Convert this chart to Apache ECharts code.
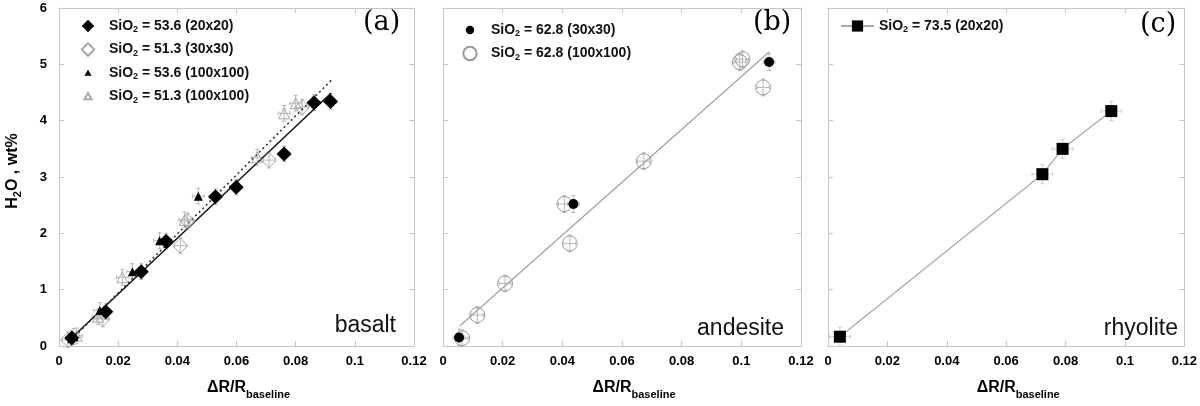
<!DOCTYPE html>
<html><head><meta charset="utf-8">
<script src="https://cdn.jsdelivr.net/npm/echarts@6/dist/echarts.min.js"></script>
<style>html,body{margin:0;padding:0;background:#fff}#c{width:1200px;height:406px}</style>
</head><body><div id="c"></div><script>
// ---------- tick labels ----------
const xTickLabels = ['0', '0.02', '0.04', '0.06', '0.08', '0.1', '0.12'];
const yTickLabels = ['0', '1', '2', '3', '4', '5', '6'];

// ---------- panel (a) basalt ----------
const nameA1 = 'SiO2 = 53.6 (20x20)';
const nameA2 = 'SiO2 = 51.3 (30x30)';
const nameA3 = 'SiO2 = 53.6 (100x100)';
const nameA4 = 'SiO2 = 51.3 (100x100)';
const basaltA1 = [[0.0043, 0.14], [0.0158, 0.61], [0.0278, 1.32], [0.0362, 1.86], [0.0529, 2.65], [0.0599, 2.82], [0.0761, 3.41], [0.0862, 4.32], [0.0918, 4.34]];
const basaltA2 = [[0.0030, 0.11], [0.0148, 0.48], [0.0410, 1.78], [0.0435, 2.22], [0.0710, 3.30], [0.0822, 4.24]];
const basaltA3 = [[0.0050, 0.17], [0.0138, 0.63], [0.0248, 1.32], [0.0340, 1.87], [0.0471, 2.66]];
const basaltA4 = [[0.0060, 0.18], [0.0132, 0.52], [0.0214, 1.22], [0.0425, 2.24], [0.0670, 3.35], [0.0761, 4.13], [0.0800, 4.31]];
const basaltErrX = [0.002, 0.002, 0.002, 0.002, 0.002, 0.002, 0.002, 0.002, 0.002];
const basaltErrY = [0.14, 0.14, 0.14, 0.14, 0.14, 0.14, 0.14, 0.14, 0.14];
const basaltFitSolid = [[0.003, 0.08], [0.092, 4.49]];
const basaltFitDotted = [[0.003, 0.05], [0.0925, 4.74]];

// ---------- panel (b) andesite ----------
const nameB1 = 'SiO2 = 62.8 (30x30)';
const nameB2 = 'SiO2 = 62.8 (100x100)';
const andesiteB1 = [[0.0054, 0.15], [0.0437, 2.52], [0.1093, 5.04]];
const andesiteB2 = [[0.0064, 0.14], [0.0115, 0.55], [0.0208, 1.11], [0.0407, 2.52], [0.0425, 1.82], [0.0673, 3.28], [0.0995, 5.04], [0.1004, 5.09], [0.1073, 4.59]];
const andesiteErrX = [0.002, 0.002, 0.002, 0.002, 0.002, 0.002, 0.002, 0.002, 0.002];
const andesiteErrY = [0.15, 0.15, 0.15, 0.15, 0.15, 0.15, 0.15, 0.15, 0.15];
const andesiteFit = [[0.0057, 0.36], [0.1093, 5.22]];

// ---------- panel (c) rhyolite ----------
const nameC1 = 'SiO2 = 73.5 (20x20)';
const rhyoliteC1 = [[0.0040, 0.165], [0.0722, 3.05], [0.0790, 3.50], [0.0954, 4.17]];
const rhyoliteErrX = [0.0035, 0.0035, 0.0035, 0.0035];
const rhyoliteErrY = [0.17, 0.17, 0.17, 0.17];

// ---------- styles ----------
const FONT = '"Liberation Sans", Arial, Helvetica, sans-serif';
const boxColor = '#c6c6c6';
const grayMark = '#a8a8a8';
const errColor = '#b8b8b8';
const grids = [
  { left: 59, top: 8, width: 355, height: 338 },
  { left: 443, top: 8, width: 358, height: 338 },
  { left: 828, top: 8, width: 357, height: 338 }
];
const subRich = {
  s: { fontSize: 9, lineHeight: 10, fontWeight: 'bold', fontFamily: FONT, color: '#111', padding: [8, 0, 0, 0] }
};
const subFmt = n => n.replace('SiO2', 'SiO{s|2}');

function xAxes(g) {
  const common = {
    gridIndex: g, type: 'value', min: 0, max: 0.12, interval: 0.02,
    splitLine: { show: false },
    axisLine: { show: true, onZero: false, lineStyle: { color: boxColor, width: 1 } },
    axisTick: { show: true, inside: true, length: 5, lineStyle: { color: boxColor } }
  };
  return [
    Object.assign({}, common, {
      position: 'bottom',
      axisLabel: {
        show: true, margin: 9, color: '#000', fontWeight: 'bold', fontSize: 13, fontFamily: FONT,
        showMinLabel: true, showMaxLabel: true,
        formatter: v => xTickLabels[Math.round(v / 0.02)]
      },
      name: 'ΔR/R{b|baseline}', nameLocation: 'middle', nameGap: 30,
      nameTextStyle: {
        color: '#000', fontSize: 16, fontWeight: 'bold', fontFamily: FONT, padding: [0, 0, 0, 24],
        rich: { b: { fontSize: 11, fontWeight: 'bold', fontFamily: FONT, color: '#000', padding: [13, 0, 0, 0] } }
      }
    }),
    Object.assign({}, common, { position: 'top', axisLabel: { show: false } })
  ];
}
function yAxes(g, labels) {
  const common = {
    gridIndex: g, type: 'value', min: 0, max: 6, interval: 1,
    splitLine: { show: false },
    axisLine: { show: true, onZero: false, lineStyle: { color: boxColor, width: 1 } },
    axisTick: { show: true, inside: true, length: 5, lineStyle: { color: boxColor } }
  };
  const left = Object.assign({}, common, {
    position: 'left',
    axisLabel: labels ? {
      show: true, margin: 12, color: '#000', fontWeight: 'bold', fontSize: 13, fontFamily: FONT,
      formatter: v => yTickLabels[Math.round(v)]
    } : { show: false }
  });
  if (labels) {
    Object.assign(left, {
      name: 'H{s|2}O , wt%', nameLocation: 'middle', nameGap: 36, nameRotate: 90,
      nameTextStyle: {
        color: '#000', fontSize: 16, fontWeight: 'bold', fontFamily: FONT, padding: [0, 0, 0, 12],
        rich: { s: { fontSize: 11, fontWeight: 'bold', fontFamily: FONT, color: '#000', padding: [9, 0, 0, 0] } }
      }
    });
  }
  return [left, Object.assign({}, common, { position: 'right', axisLabel: { show: false } })];
}

function errSeries(ai, pts, ex, ey, color) {
  return {
    type: 'custom', xAxisIndex: ai, yAxisIndex: ai, silent: true, z: 1,
    data: pts.map((p, i) => [p[0], p[1], ex[i % ex.length], ey[i % ey.length]]),
    encode: { x: 0, y: 1 },
    renderItem: (params, api) => {
      const x = api.value(0), y = api.value(1), dx = api.value(2), dy = api.value(3);
      const c = api.coord([x, y]);
      const t = api.coord([x, y + dy])[1], b = api.coord([x, y - dy])[1];
      const l = api.coord([x - dx, y])[0], r = api.coord([x + dx, y])[0];
      const k = 2;
      const st = { stroke: color || errColor, lineWidth: 1 };
      const L = (x1, y1, x2, y2) => ({ type: 'line', shape: { x1, y1, x2, y2 }, style: st });
      return {
        type: 'group', children: [
          L(c[0], t, c[0], b), L(c[0] - k, t, c[0] + k, t), L(c[0] - k, b, c[0] + k, b),
          L(l, c[1], r, c[1]), L(l, c[1] - k, l, c[1] + k), L(r, c[1] - k, r, c[1] + k)
        ]
      };
    }
  };
}
const hollow = { color: 'rgba(255,255,255,0)', borderColor: grayMark, borderWidth: 1, opacity: 1 };
const solid = { color: '#000', opacity: 1 };
const diamondIcon = 'path://M0,0M20,20M10,1L19,10L10,19L1,10Z';
const triSmall = 'path://M0,0M20,20M10,5L15,14L5,14Z';
const circSmall = 'path://M0,0M20,20M10,4A6,6,0,1,1,9.99,4Z';
const circBig = 'path://M0,0M20,20M10,0.5A9.5,9.5,0,1,1,9.99,0.5Z';
const legendText = { color: '#111', fontSize: 14, lineHeight: 18, fontWeight: 'bold', fontFamily: FONT, padding: [0, 0, 0, 9], rich: subRich };
const legendTextC = Object.assign({}, legendText, { padding: 0 });

const option = {
  animation: false,
  backgroundColor: '#fff',
  grid: grids,
  xAxis: [].concat(xAxes(0), xAxes(1), xAxes(2)),
  yAxis: [].concat(yAxes(0, true), yAxes(1, false), yAxes(2, false)),
  legend: [
    {
      left: 80, top: 17, padding: 0, orient: 'vertical', itemWidth: 14, itemHeight: 14, itemGap: 5.5,
      selectedMode: false, formatter: subFmt, textStyle: legendText,
      data: [{ name: nameA1, icon: diamondIcon }, { name: nameA2, icon: diamondIcon }, { name: nameA3, icon: triSmall }, { name: nameA4, icon: triSmall }]
    },
    {
      left: 462, top: 21, padding: 0, orient: 'vertical', itemWidth: 14, itemHeight: 14, itemGap: 5.5,
      selectedMode: false, formatter: subFmt, textStyle: legendText,
      data: [{ name: nameB1, icon: circSmall }, { name: nameB2, icon: circBig }]
    },
    {
      left: 840, top: 17, padding: 0, orient: 'vertical', itemWidth: 33, itemHeight: 14, itemGap: 5.5,
      selectedMode: false, formatter: subFmt, textStyle: legendTextC,
      data: [nameC1]
    }
  ],
  series: [
    // panel (a)
    { type: 'line', name: 'fitSolid', xAxisIndex: 0, yAxisIndex: 0, data: basaltFitSolid, symbol: 'none', lineStyle: { color: '#111', width: 1.5 }, z: 2, silent: true },
    { type: 'line', name: 'fitDotted', xAxisIndex: 0, yAxisIndex: 0, data: basaltFitDotted, symbol: 'none', lineStyle: { color: '#333', width: 1.6, type: [2, 3] }, z: 2, silent: true },
    errSeries(0, basaltA1, basaltErrX, basaltErrY),
    errSeries(0, basaltA2, basaltErrX, basaltErrY),
    errSeries(0, basaltA3, basaltErrX, basaltErrY),
    errSeries(0, basaltA4, basaltErrX, basaltErrY),
    { type: 'scatter', name: nameA2, xAxisIndex: 0, yAxisIndex: 0, data: basaltA2, symbol: 'diamond', symbolSize: 15, itemStyle: hollow, z: 3 },
    { type: 'scatter', name: nameA4, xAxisIndex: 0, yAxisIndex: 0, data: basaltA4, symbol: 'triangle', symbolSize: 11, itemStyle: hollow, z: 3 },
    { type: 'scatter', name: nameA1, xAxisIndex: 0, yAxisIndex: 0, data: basaltA1, symbol: 'diamond', symbolSize: 15, itemStyle: solid, z: 4 },
    { type: 'scatter', name: nameA3, xAxisIndex: 0, yAxisIndex: 0, data: basaltA3, symbol: 'triangle', symbolSize: 9, itemStyle: solid, z: 4 },
    // panel (b)
    { type: 'line', name: 'fitB', xAxisIndex: 2, yAxisIndex: 2, data: andesiteFit, symbol: 'none', lineStyle: { color: '#a0a0a0', width: 1.2 }, z: 2, silent: true },
    errSeries(2, andesiteB1, andesiteErrX, andesiteErrY),
    errSeries(2, andesiteB2, andesiteErrX, andesiteErrY),
    { type: 'scatter', name: nameB2, xAxisIndex: 2, yAxisIndex: 2, data: andesiteB2, symbol: 'circle', symbolSize: 15, itemStyle: { color: 'rgba(255,255,255,0)', borderColor: '#999', borderWidth: 1, opacity: 1 }, z: 3 },
    { type: 'scatter', name: nameB1, xAxisIndex: 2, yAxisIndex: 2, data: andesiteB1, symbol: 'circle', symbolSize: 10, itemStyle: solid, z: 4 },
    // panel (c)
    errSeries(4, rhyoliteC1, rhyoliteErrX, rhyoliteErrY, '#cfcfcf'),
    { type: 'line', name: nameC1, xAxisIndex: 4, yAxisIndex: 4, data: rhyoliteC1, symbol: 'rect', symbolSize: 12, showAllSymbol: true,
      itemStyle: solid, lineStyle: { color: '#a8a8a8', width: 1.2 }, z: 3 }
  ],
  graphic: [
    { type: 'text', left: 363, top: 9, style: { text: '(a)', font: '27px "DejaVu Serif", serif', fill: '#000' } },
    { type: 'text', left: 753, top: 9, style: { text: '(b)', font: '27px "DejaVu Serif", serif', fill: '#000' } },
    { type: 'text', left: 1140, top: 11, style: { text: '(c)', font: '27px "DejaVu Serif", serif', fill: '#000' } },
    { type: 'text', x: 396, y: 326, style: { text: 'basalt', font: '23px ' + FONT, fill: '#111', align: 'right', verticalAlign: 'middle' } },
    { type: 'text', x: 784, y: 329, style: { text: 'andesite', font: '23px ' + FONT, fill: '#111', align: 'right', verticalAlign: 'middle' } },
    { type: 'text', x: 1178, y: 329, style: { text: 'rhyolite', font: '23px ' + FONT, fill: '#111', align: 'right', verticalAlign: 'middle' } }
  ]
};
const chart = echarts.init(document.getElementById('c'), null, { renderer: 'canvas' });
chart.setOption(option);
</script></body></html>
